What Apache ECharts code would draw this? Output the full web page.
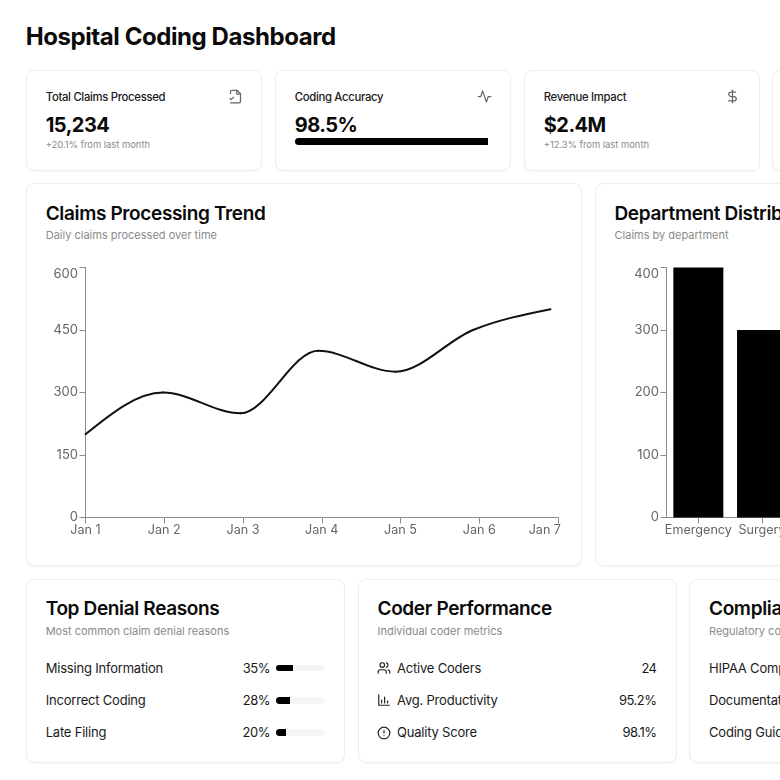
<!DOCTYPE html>
<html><head><meta charset="utf-8">
<script src="https://cdn.jsdelivr.net/npm/echarts@6/dist/echarts.min.js"></script>
<style>
html,body{margin:0;padding:0;width:780px;height:780px;overflow:hidden;background:#fff;font-family:Inter,sans-serif;color:#0a0a0a}
#page{position:relative;width:780px;height:780px;overflow:hidden}
.a{position:absolute;white-space:nowrap;line-height:1}
.card{position:absolute;box-sizing:border-box;border:1px solid #eeeeee;border-radius:8px;background:#fff;box-shadow:0 1px 2px rgba(0,0,0,.03)}
#chart{position:absolute;left:0;top:0;width:780px;height:780px}
svg.i{position:absolute;fill:none;stroke:#555;stroke-width:2;stroke-linecap:round;stroke-linejoin:round}
</style></head><body><div id="page"><div id="cards"></div><div id="chart"></div></div>
<script>
const trendDays = ['Jan 1','Jan 2','Jan 3','Jan 4','Jan 5','Jan 6','Jan 7'];
const trendClaims = [200,300,250,400,350,450,500];
const departments = ['Emergency','Surgery'];
const departmentClaims = [400,300];
const kpiTitles = ['Total Claims Processed','Coding Accuracy','Revenue Impact'];
const kpiValues = ['15,234','98.5%','$2.4M'];
const kpiNotes = ['+20.1% from last month','','+12.3% from last month'];
const accuracyPercent = 98.5;
const denialReasons = ['Missing Information','Incorrect Coding','Late Filing'];
const denialShares = [35,28,20];
const coderMetrics = ['Active Coders','Avg. Productivity','Quality Score'];
const coderValues = ['24','95.2%','98.1%'];
const complianceItems = ['HIPAA Compliance','Documentation','Coding Guidelines'];

const page = document.getElementById('cards');
function card(x,y,w,h){const d=document.createElement('div');d.className='card';d.style.cssText=`left:${x}px;top:${y}px;width:${w}px;height:${h}px`;page.appendChild(d);}
function text(s,x,cy,size,weight,color,opt={}){const d=document.createElement('div');d.className='a';d.textContent=s;
 let st=`top:${cy-size/2}px;font-size:${size}px;font-weight:${weight};color:${color};`;
 st+=opt.right!==undefined?`right:${780-opt.right}px;`:`left:${x}px;`;
 if(opt.ls!==undefined)st+=`letter-spacing:${opt.ls}px;`;
 d.style.cssText=st;page.appendChild(d);}
function box(x,y,w,h,c,r){const d=document.createElement('div');d.style.cssText=`position:absolute;left:${x}px;top:${y}px;width:${w}px;height:${h}px;background:${c};border-radius:${r}`;page.appendChild(d);}
function icon(x,y,size,paths,stroke){const ns='http://www.w3.org/2000/svg';const s=document.createElementNS(ns,'svg');s.setAttribute('class','i');s.setAttribute('viewBox','0 0 24 24');s.setAttribute('width',size);s.setAttribute('height',size);s.style.left=x+'px';s.style.top=y+'px';if(stroke)s.style.stroke=stroke;s.innerHTML=paths;page.appendChild(s);}

text('Hospital Coding Dashboard',25.7,37,24,700,'#0a0a0a',{ls:-0.42});
[[25.7,69.5],[274.7,69.5],[523.5,69.5],[772,69.5]].forEach(p=>card(p[0],p[1],236,101));
kpiTitles.forEach((t,i)=>{const x=45.7+i*249;
 text(t,x,97.5,11.3,500,'#1a1a1a',{ls:-0.3});
 text(kpiValues[i],x,124.5,20,700,'#0a0a0a',{ls:-0.5});
 if(kpiNotes[i])text(kpiNotes[i],x,144.5,9.4,400,'#8a8a8a');
});
box(294.5,137.5,193.5,7.5,'#f5f5f5','4px');
box(294.5,137.5,193.5*accuracyPercent/100+3,7.5,'#000','4px 0 0 4px');
icon(227.5,89,15,'<path d="M4 7V4a2 2 0 0 1 2-2h8.5L20 7.5V20a2 2 0 0 1-2 2H4"/><path d="M14 2v6h6"/><path d="m3 15 2 2 4-4"/>','#666');
icon(476.5,89,15,'<path d="M22 12h-4l-3 9L9 3l-3 9H2"/>','#666');
icon(725,89,15,'<path d="M12 2v20"/><path d="M17 5H9.5a3.5 3.5 0 0 0 0 7h5a3.5 3.5 0 0 1 0 7H6"/>','#666');

card(25.7,183,556,383); card(594.5,183,556,383);
text('Claims Processing Trend',45.7,213,19,600,'#0a0a0a',{ls:-0.35});
text('Daily claims processed over time',45.7,235.5,11,400,'#8a8a8a');
text('Department Distribution',614.5,213,19,600,'#0a0a0a',{ls:-0.35});
text('Claims by department',614.5,235.5,11,400,'#8a8a8a');

card(25.7,579,319,184); card(357.5,579,319,184); card(689,579,319,184);
const rowY=[668,700.5,732.5];
text('Top Denial Reasons',45.7,608.5,19,600,'#0a0a0a',{ls:-0.35});
text('Most common claim denial reasons',45.7,631,11,400,'#8a8a8a');
denialReasons.forEach((t,i)=>{text(t,45.7,rowY[i],13,400,'#1a1a1a',{ls:-0.2});
 text(denialShares[i]+'%',0,rowY[i],13,400,'#1a1a1a',{right:270,ls:-0.5});
 box(276,rowY[i]-3.2,48.5,6.5,'#f5f5f5','4px');
 box(276,rowY[i]-3.2,48.5*denialShares[i]/100,6.5,'#000','4px 0 0 4px');});
text('Coder Performance',377.5,608.5,19,600,'#0a0a0a',{ls:-0.35});
text('Individual coder metrics',377.5,631,11,400,'#8a8a8a');
coderMetrics.forEach((t,i)=>{text(t,397,rowY[i],13,400,'#1a1a1a',{ls:-0.2});text(coderValues[i],0,rowY[i],13,400,'#1a1a1a',{right:656.5,ls:-0.5});});
const ic='#222';
icon(377,660.5,14,'<path d="M16 21v-2a4 4 0 0 0-4-4H6a4 4 0 0 0-4 4v2"/><circle cx="9" cy="7" r="4"/><path d="M22 21v-2a4 4 0 0 0-3-3.87"/><path d="M16 3.13a4 4 0 0 1 0 7.75"/>',ic);
icon(377,693,14,'<path d="M3 3v18h18"/><path d="M8 17v-5"/><path d="M13 17V7"/><path d="M18 17v-3"/>',ic);
icon(377,725.5,14,'<circle cx="12" cy="12" r="10"/><path d="M12 8v4"/><path d="M12 16h.01"/>',ic);
text('Compliance Status',709,608.5,19,600,'#0a0a0a',{ls:-0.35});
text('Regulatory compliance metrics',709,631,11,400,'#8a8a8a');
complianceItems.forEach((t,i)=>text(t,709,rowY[i],13,400,'#1a1a1a',{ls:-0.2}));

const axisC='#8c8c8c', labC='#666666', labF='Inter,sans-serif';
const chart=echarts.init(document.getElementById('chart'),null,{renderer:'canvas'});
const plotTop=267.5,plotH=250;
function xAx(idx,data,show,extra){return Object.assign({type:'category',gridIndex:idx,data:data,show:show,boundaryGap:false,
 axisLine:{lineStyle:{color:axisC,width:1}},axisTick:{show:true,alignWithLabel:true,length:6,lineStyle:{color:axisC}},
 axisLabel:{color:labC,fontSize:12.6,fontFamily:labF,margin:6,interval:0},splitLine:{show:false}},extra||{});}
function yAx(idx,max,itv,show){return {type:'value',gridIndex:idx,min:0,max:max,interval:itv,show:show,
 axisLine:{show:true,lineStyle:{color:axisC,width:1}},axisTick:{show:true,length:6,lineStyle:{color:axisC}},
 axisLabel:{color:labC,fontSize:13,fontFamily:labF,margin:7.5,verticalAlignMaxLabel:'top'},splitLine:{show:false}};}

// Monotone-x curve through the data points, positioned through the axes' own scale.
function trendSegment(params,api){
 const i=params.dataIndex, n=trendClaims.length;
 if(i>=n-1)return null;
 const pts=trendClaims.map((v,k)=>api.coord([k,v]));
 const sl=k=>(pts[k+1][1]-pts[k][1])/(pts[k+1][0]-pts[k][0]);
 const tan=k=>{
  if(k>0&&k<n-1){const a=sl(k-1),b=sl(k);const s=(a>0?1:-1)+(b>0?1:-1);
   return s===0?0:s*Math.min(Math.abs(a),Math.abs(b),0.25*Math.abs(a+b));}
  const j=k===0?0:n-2,other=k===0?tan(1):tan(n-2);
  return (3*sl(j)-other)/2;};
 const p=pts[i],q=pts[i+1],h=(q[0]-p[0])/3;
 return {type:'bezierCurve',shape:{x1:p[0],y1:p[1],x2:q[0],y2:q[1],cpx1:p[0]+h,cpy1:p[1]+h*tan(i),cpx2:q[0]-h,cpy2:q[1]-h*tan(i+1)},
  style:{stroke:'#111',lineWidth:2,fill:null,lineCap:'round'}};
}
chart.setOption({animation:false,
 grid:[
  {left:85.5,top:plotTop,width:472.5,height:plotH,outerBoundsMode:'none'},
  {left:85.5,top:plotTop,width:465,height:plotH,outerBoundsMode:'none'},
  {left:666.5,top:plotTop,width:127.4,height:plotH,outerBoundsMode:'none'}],
 xAxis:[
  xAx(0,trendDays,true,{axisLabel:{color:labC,fontSize:12.6,fontFamily:labF,margin:6,interval:0,alignMaxLabel:'right',
    formatter:(v,i)=>i===trendDays.length-1?`{last|${v}}`:v,
    rich:{last:{color:labC,fontSize:12.6,fontFamily:labF,padding:[0,-3,0,0]}}}}),
  xAx(1,trendDays,false),
  xAx(2,departments,true,{boundaryGap:true})],
 yAxis:[yAx(0,600,150,true),yAx(1,600,150,false),yAx(2,400,100,true)],
 series:[
  {type:'custom',name:'Claims',coordinateSystem:'cartesian2d',xAxisIndex:1,yAxisIndex:1,clip:false,
   data:trendClaims.map((v,k)=>[k,v]),encode:{x:0,y:1},renderItem:trendSegment},
  {type:'bar',name:'Claims by department',xAxisIndex:2,yAxisIndex:2,data:departmentClaims,barWidth:50,itemStyle:{color:'#000'}}]
});
</script></body></html>
